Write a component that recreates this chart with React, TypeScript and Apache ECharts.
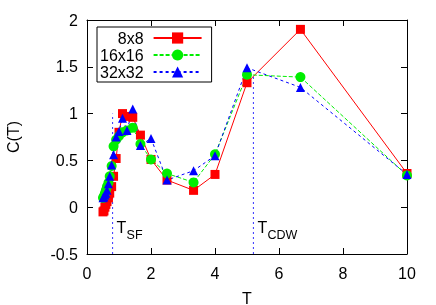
import React, { useEffect, useRef } from "react";
import * as echarts from "echarts";

const temps = [0.5, 0.53, 0.56, 0.59, 0.625, 0.67, 0.71, 0.77, 0.83, 0.91, 1.0, 1.11, 1.25, 1.43, 1.67, 2.0, 2.5, 3.33, 4.0, 5.0, 6.67, 10];
const c8 = [-0.05, -0.04, 0.0, 0.03, 0.06, 0.1, 0.15, 0.22, 0.33, 0.52, 0.8, 1.0, 0.97, 0.96, 0.77, 0.51, 0.29, 0.18, 0.35, 1.33, 1.9, 0.36];
const c16 = [0.1, 0.12, 0.15, 0.18, 0.22, 0.26, 0.33, 0.44, 0.65, 0.72, 0.76, 0.8, 0.82, 0.85, 0.675, 0.51, 0.36, 0.265, 0.565, 1.415, 1.39, 0.34];
const c32 = [0.1, 0.11, 0.13, 0.15, 0.18, 0.25, 0.33, 0.45, 0.56, 0.75, 0.81, 0.95, 0.82, 1.05, 0.66, 0.735, 0.29, 0.39, 0.55, 1.49, 1.28, 0.35];
const seriesNames = ["8x8", "16x16", "32x32"];
const tSF = 0.8;
const tSFTop = 1.0;
const tCDW = 5.2;
const tCDWTop = 1.42;
const markerY = -0.217;
const markers = [
  { t: tSF, sub: "SF" },
  { t: tCDW, sub: "CDW" },
];
const xTicks = { min: 0, max: 10, interval: 2 };
const yTicks = { min: -0.5, max: 2, interval: 0.5 };

const FONT = "Liberation Sans";

export default function App() {
  const ref = useRef<HTMLDivElement>(null);
  useEffect(() => {
    if (!ref.current) return;
    const chart = echarts.init(ref.current, undefined, { renderer: "svg" });
    const mk = (vals: number[]) => temps.map((t, i) => [t, vals[i]]);
    const axisCommon = {
      axisLine: { show: true, onZero: false, lineStyle: { color: "#000", width: 1 } },
      axisTick: { show: true, inside: true, length: 6, lineStyle: { color: "#000" } },
      splitLine: { show: false },
    };
    chart.setOption({
      animation: false,
      grid: { left: 87, right: 29, top: 20, bottom: 51, containLabel: false, outerBoundsMode: "none" },
      xAxis: [
        {
          type: "value", ...xTicks, position: "bottom", ...axisCommon,
          name: "T", nameLocation: "middle", nameGap: 36,
          nameTextStyle: { fontSize: 16, fontFamily: FONT, color: "#000" },
          axisLabel: { fontSize: 16, fontFamily: FONT, color: "#000", margin: 11 },
        },
        { type: "value", ...xTicks, position: "top", ...axisCommon, axisLabel: { show: false } },
      ],
      yAxis: [
        {
          type: "value", ...yTicks, position: "left", ...axisCommon,
          name: "C(T)", nameLocation: "middle", nameGap: 66,
          nameTextStyle: { fontSize: 16, fontFamily: FONT, color: "#000" },
          axisLabel: { fontSize: 16, fontFamily: FONT, color: "#000", margin: 9 },
        },
        { type: "value", ...yTicks, position: "right", ...axisCommon, axisLabel: { show: false } },
      ],
      legend: {
        data: seriesNames,
        orient: "vertical",
        align: "right",
        left: 97,
        top: 27,
        padding: [3, 9, 2, 3],
        itemWidth: 48,
        itemHeight: 14,
        itemGap: 1,
        borderColor: "#000",
        borderWidth: 1,
        formatter: (n: string) => "{n|" + n + "}",
        textStyle: {
          fontSize: 16, fontFamily: FONT, color: "#000",
          rich: { n: { fontSize: 16, fontFamily: FONT, color: "#000", lineHeight: 15, padding: [0, 5, 0, 0] } },
        },
      },
      series: [
        {
          name: "8x8", type: "line", data: mk(c8), symbol: "rect", symbolSize: 9,
          itemStyle: { color: "#ff0000" }, lineStyle: { color: "#ff0000", width: 1 },
        },
        {
          name: "16x16", type: "line", data: mk(c16), symbol: "circle", symbolSize: 10,
          itemStyle: { color: "#00ee00" }, lineStyle: { color: "#00ee00", width: 1, type: [4, 2] },
        },
        {
          name: "32x32", type: "line", data: mk(c32), symbol: "triangle", symbolSize: 9,
          itemStyle: { color: "#0000ff" }, lineStyle: { color: "#0000ff", width: 1, type: [3, 3] },
        },
        {
          name: "sf", type: "line", data: [[tSF, yTicks.min], [tSF, tSFTop]], symbol: "none", silent: true,
          lineStyle: { color: "#3333ff", width: 1, type: [2, 3] },
        },
        {
          name: "cdw", type: "line", data: [[tCDW, yTicks.min], [tCDW, tCDWTop]], symbol: "none", silent: true,
          lineStyle: { color: "#3333ff", width: 1, type: [2, 3] },
        },
      ],
    });
    const elements: any[] = [];
    markers.forEach((m) => {
      const p = chart.convertToPixel({ gridIndex: 0 }, [m.t, markerY]) as number[];
      elements.push({
        type: "text", x: p[0] + 4, y: p[1], silent: true,
        style: { text: "T", fill: "#000", font: `16px "${FONT}"`, textAlign: "left", textVerticalAlign: "middle" },
      });
      elements.push({
        type: "text", x: p[0] + 14, y: p[1] + 7, silent: true,
        style: { text: m.sub, fill: "#000", font: `12.5px "${FONT}"`, textAlign: "left", textVerticalAlign: "middle" },
      });
    });
    chart.setOption({ graphic: { elements } });
    return () => chart.dispose();
  }, []);
  return <div ref={ref} style={{ position: "fixed", left: 0, top: 0, width: 436, height: 305 }} />;
}
